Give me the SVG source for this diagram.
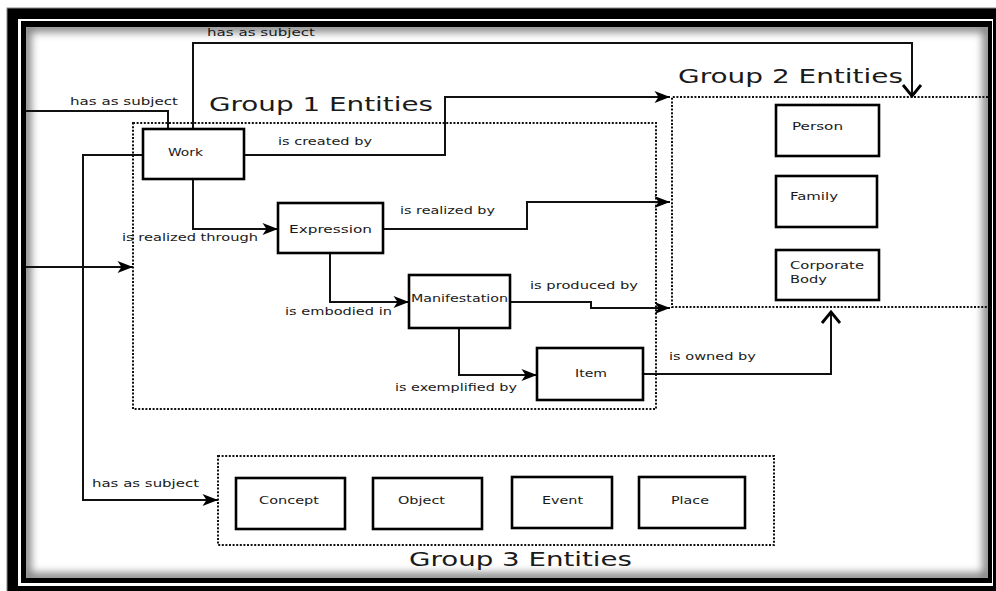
<svg xmlns="http://www.w3.org/2000/svg" width="996" height="591" viewBox="0 0 996 591">
<style>
.box{fill:#fff;stroke:#000;stroke-width:2.6}
.con{fill:none;stroke:#111;stroke-width:2}
.dot{fill:none;stroke:#111;stroke-width:2;stroke-dasharray:2,1.6}
.lbl{font-family:"DejaVu Sans","Liberation Sans",sans-serif;font-size:11px;fill:#1a1a1a}
.ttl{font-family:"DejaVu Sans","Liberation Sans",sans-serif;font-size:20px;fill:#1a1a1a}
</style>
<defs>
<marker id="arr" markerUnits="userSpaceOnUse" markerWidth="17" markerHeight="14" refX="16" refY="7" orient="auto" viewBox="0 0 17 14"><path d="M16,7 L0.5,1 L4.5,7 L0.5,13 Z" fill="#000"/></marker>
<marker id="chev" markerUnits="userSpaceOnUse" markerWidth="24" markerHeight="22" refX="20" refY="11" orient="auto" viewBox="0 0 24 22"><path d="M9,2 L20,11 L9,20" fill="none" stroke="#000" stroke-width="2.8"/></marker>
<clipPath id="inner"><rect x="26" y="27" width="962" height="551"/></clipPath>
<filter id="blur" x="-5%" y="-5%" width="110%" height="110%"><feGaussianBlur stdDeviation="4"/></filter>
</defs>

<g id="frame">
<rect x="0" y="0" width="996" height="591" fill="#fff"/>
<rect x="7" y="8" width="995" height="590" fill="#000" stroke="#888" stroke-width="1"/>
<rect x="18" y="19" width="975" height="567" fill="#fff"/>
<rect x="21" y="21" width="971" height="562" fill="#000"/>
<rect x="26" y="27" width="962" height="551" fill="#fff"/>
<g clip-path="url(#inner)"><rect x="26" y="27" width="962" height="551" fill="none" stroke="#000" stroke-width="10" stroke-opacity="0.5" filter="url(#blur)"/></g>
</g>

<g id="groups">
<rect class="dot" x="133" y="123" width="523" height="286"/>
<path class="dot" d="M988,97 H672 V307 H988"/>
<rect class="dot" x="218" y="456" width="556" height="89"/>
<text class="ttl" x="209" y="111" textLength="224" lengthAdjust="spacingAndGlyphs">Group 1 Entities</text>
<text class="ttl" x="678" y="83" textLength="225" lengthAdjust="spacingAndGlyphs">Group 2 Entities</text>
<text class="ttl" x="409" y="566" textLength="223" lengthAdjust="spacingAndGlyphs">Group 3 Entities</text>
</g>

<g id="connectors">
<path class="con" d="M193,129 V43 H912 V96" marker-end="url(#chev)"/>
<path class="con" d="M26,111 H168 V129"/>
<path class="con" d="M143,155 H83 V500 H218" marker-end="url(#arr)"/>
<path class="con" d="M26,267 H133" marker-end="url(#arr)"/>
<path class="con" d="M244,155 H445 V97 H670" marker-end="url(#arr)"/>
<path class="con" d="M193,179 V229 H278" marker-end="url(#arr)"/>
<path class="con" d="M383,229 H527 V202 H670" marker-end="url(#arr)"/>
<path class="con" d="M330,253 V302 H409" marker-end="url(#arr)"/>
<path class="con" d="M510,302 H591 V308 H670" marker-end="url(#arr)"/>
<path class="con" d="M459,328 V375 H537" marker-end="url(#arr)"/>
<path class="con" d="M643,374 H831 V312" marker-end="url(#chev)"/>
<text class="lbl" x="207" y="36" textLength="108" lengthAdjust="spacingAndGlyphs">has as subject</text>
<text class="lbl" x="70" y="105" textLength="108" lengthAdjust="spacingAndGlyphs">has as subject</text>
<text class="lbl" x="92" y="487" textLength="107" lengthAdjust="spacingAndGlyphs">has as subject</text>
<text class="lbl" x="278" y="145" textLength="94" lengthAdjust="spacingAndGlyphs">is created by</text>
<text class="lbl" x="122" y="241" textLength="136" lengthAdjust="spacingAndGlyphs">is realized through</text>
<text class="lbl" x="400" y="214" textLength="95" lengthAdjust="spacingAndGlyphs">is realized by</text>
<text class="lbl" x="285" y="315" textLength="107" lengthAdjust="spacingAndGlyphs">is embodied in</text>
<text class="lbl" x="530" y="289" textLength="108" lengthAdjust="spacingAndGlyphs">is produced by</text>
<text class="lbl" x="395" y="391" textLength="122" lengthAdjust="spacingAndGlyphs">is exemplified by</text>
<text class="lbl" x="669" y="360" textLength="87" lengthAdjust="spacingAndGlyphs">is owned by</text>
</g>

<g id="work"><rect class="box" x="143" y="129" width="101" height="50"/><text class="lbl" x="168" y="156" textLength="35" lengthAdjust="spacingAndGlyphs">Work</text></g>
<g id="expression"><rect class="box" x="278" y="203" width="105" height="50"/><text class="lbl" x="289" y="233" textLength="83" lengthAdjust="spacingAndGlyphs">Expression</text></g>
<g id="manifestation"><rect class="box" x="409" y="275" width="101" height="53"/><text class="lbl" x="411" y="302" textLength="97" lengthAdjust="spacingAndGlyphs">Manifestation</text></g>
<g id="item"><rect class="box" x="537" y="348" width="106" height="52"/><text class="lbl" x="575" y="377" textLength="32" lengthAdjust="spacingAndGlyphs">Item</text></g>
<g id="person"><rect class="box" x="776" y="105" width="103" height="51"/><text class="lbl" x="792" y="130" textLength="51" lengthAdjust="spacingAndGlyphs">Person</text></g>
<g id="family"><rect class="box" x="776" y="176" width="101" height="51"/><text class="lbl" x="790" y="200" textLength="48" lengthAdjust="spacingAndGlyphs">Family</text></g>
<g id="corporate-body"><rect class="box" x="776" y="250" width="103" height="50"/><text class="lbl" x="790" y="269" textLength="74" lengthAdjust="spacingAndGlyphs">Corporate</text><text class="lbl" x="790" y="283" textLength="37" lengthAdjust="spacingAndGlyphs">Body</text></g>
<g id="concept"><rect class="box" x="236" y="478" width="109" height="51"/><text class="lbl" x="259" y="504" textLength="60" lengthAdjust="spacingAndGlyphs">Concept</text></g>
<g id="object"><rect class="box" x="373" y="478" width="109" height="51"/><text class="lbl" x="398" y="504" textLength="47" lengthAdjust="spacingAndGlyphs">Object</text></g>
<g id="event"><rect class="box" x="512" y="477" width="100" height="51"/><text class="lbl" x="542" y="504" textLength="41" lengthAdjust="spacingAndGlyphs">Event</text></g>
<g id="place"><rect class="box" x="639" y="477" width="106" height="51"/><text class="lbl" x="671" y="504" textLength="38" lengthAdjust="spacingAndGlyphs">Place</text></g>
</svg>
